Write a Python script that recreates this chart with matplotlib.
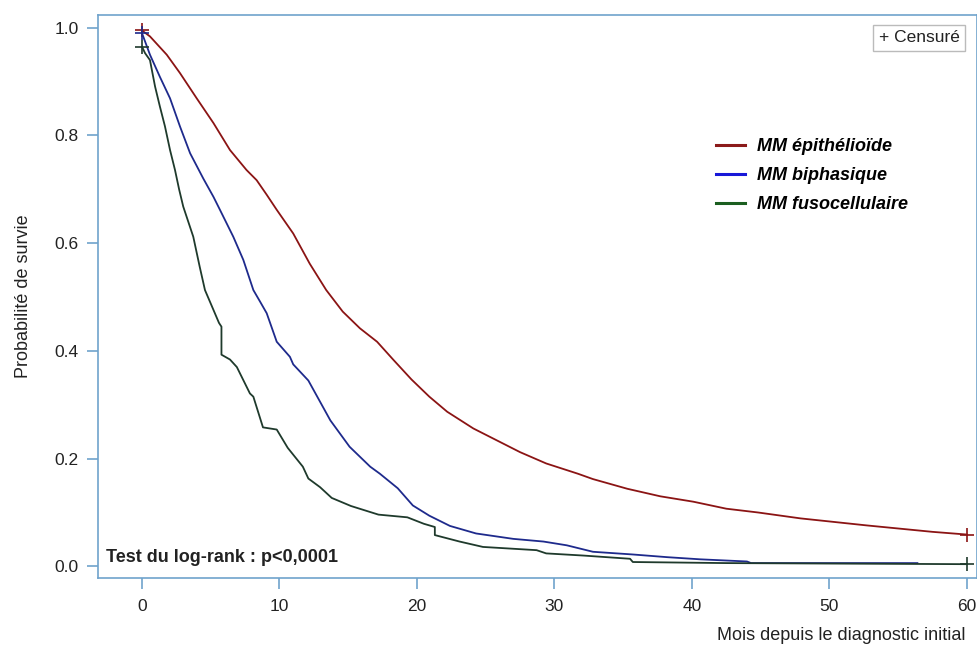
import matplotlib
matplotlib.use("Agg")
import matplotlib.pyplot as plt
from matplotlib.lines import Line2D

plt.rcParams['font.family'] = ['Liberation Sans', 'DejaVu Sans']

# Kaplan-Meier curve vertices (months, survival probability)
epi_t = [0, 0.58, 1.8, 2.76, 3.98, 5.2, 6.4, 7.6, 8.34, 9.07, 9.8, 11.0, 12.2,
         13.4, 14.6, 15.85, 17.1, 18.3, 19.6, 20.9, 22.2, 24.1, 25.8, 27.5,
         29.4, 31.7, 32.8, 35.3, 37.7, 40.1, 42.5, 44.8, 47.9, 52.7, 57.5, 60]
epi_s = [0.995, 0.984, 0.95, 0.916, 0.869, 0.823, 0.773, 0.736, 0.717, 0.69,
         0.662, 0.618, 0.562, 0.513, 0.473, 0.442, 0.417, 0.383, 0.347, 0.315,
         0.287, 0.256, 0.234, 0.212, 0.191, 0.172, 0.162, 0.144, 0.130, 0.120,
         0.107, 0.100, 0.089, 0.076, 0.064, 0.059]

bip_t = [0, 0.58, 1.3, 2.04, 2.76, 3.5, 4.46, 5.2, 5.67, 6.64, 7.37, 8.1, 8.6,
         9.07, 9.8, 10.76, 11.0, 12.1, 13.7, 15.1, 16.6, 17.3, 18.6, 19.7,
         20.9, 22.4, 24.3, 27.0, 29.2, 30.9, 32.8, 35.7, 38.2, 40.6, 44.0,
         44.3, 56.4]
bip_s = [0.99, 0.95, 0.909, 0.869, 0.817, 0.767, 0.72, 0.686, 0.662, 0.612,
         0.569, 0.513, 0.491, 0.47, 0.417, 0.389, 0.375, 0.345, 0.271, 0.222,
         0.185, 0.172, 0.145, 0.113, 0.094, 0.075, 0.061, 0.051, 0.046, 0.039,
         0.027, 0.022, 0.017, 0.013, 0.009, 0.006, 0.006]

fus_t = [0, 0.22, 0.58, 0.95, 1.3, 1.67, 2.04, 2.4, 2.7, 3.0, 3.73, 4.2, 4.58,
         5.2, 5.6, 5.78, 5.78, 6.4, 6.9, 7.85, 8.1, 8.8, 9.8, 10.6, 11.7, 12.1,
         12.95, 13.8, 15.2, 17.2, 19.3, 20.5, 21.3, 21.3, 23.1, 24.8, 28.7,
         29.4, 32.1, 35.5, 35.7, 42.5, 60]
fus_s = [0.965, 0.953, 0.94, 0.891, 0.854, 0.817, 0.773, 0.736, 0.70, 0.668,
         0.612, 0.556, 0.513, 0.476, 0.452, 0.445, 0.393, 0.384, 0.370, 0.321,
         0.315, 0.258, 0.254, 0.22, 0.185, 0.163, 0.147, 0.127, 0.112, 0.096,
         0.091, 0.079, 0.073, 0.058, 0.046, 0.036, 0.030, 0.024, 0.020, 0.014,
         0.008, 0.006, 0.004]

# censored observations shown with '+'
epi_cens_t = [0, 60]
epi_cens_s = [0.995, 0.059]
bip_cens_t = [0]
bip_cens_s = [0.99]
fus_cens_t = [0, 60]
fus_cens_s = [0.965, 0.004]

labels = ['MM épithélioïde', 'MM biphasique', 'MM fusocellulaire']
curve_colors = ['#8B1414', '#1E2A8C', '#1F3A2C']
legend_colors = ['#8B1A1A', '#1818D8', '#1B5E20']
frame_color = '#6FA3CC'

fig = plt.figure(figsize=(9.78, 6.46), dpi=100)
ax = fig.add_axes([0.1002, 0.105, 0.8983, 0.872])

series = [(epi_t, epi_s, epi_cens_t, epi_cens_s),
          (bip_t, bip_s, bip_cens_t, bip_cens_s),
          (fus_t, fus_s, fus_cens_t, fus_cens_s)]
for (t, s, ct, cs), col in zip(series, curve_colors):
    ax.plot(t, s, color=col, lw=1.3, zorder=3)
    ax.plot(ct, cs, ls='none', marker='+', ms=10, mew=1.2, color=col, zorder=4)

ax.set_xlim(-3.2, 60.7)
ax.set_ylim(-0.022, 1.024)
ax.set_xticks([0, 10, 20, 30, 40, 50, 60])
ax.set_yticks([0.0, 0.2, 0.4, 0.6, 0.8, 1.0])
ax.set_yticklabels([f'{v:.1f}' for v in [0.0, 0.2, 0.4, 0.6, 0.8, 1.0]])

for sp in ax.spines.values():
    sp.set_color(frame_color)
    sp.set_linewidth(1.2)
ax.tick_params(axis='both', colors=frame_color, length=8, width=1.2,
               labelcolor='#222222', labelsize=12.5)
ax.tick_params(axis='x', pad=7)
ax.tick_params(axis='y', pad=6)

ax.set_ylabel('Probabilité de survie', fontsize=13, color='#222222', labelpad=16)
ax.set_xlabel('Mois depuis le diagnostic initial', fontsize=13, color='#222222')
ax.xaxis.set_label_coords(0.9875, -0.087)
ax.xaxis.label.set_ha('right')
ax.xaxis.label.set_va('top')

handles = [Line2D([], [], color=c, lw=2.2) for c in legend_colors]
leg = ax.legend(handles, labels, loc='upper left', bbox_to_anchor=(0.7036, 0.781),
                frameon=False, borderpad=0, borderaxespad=0, handlelength=1.6,
                handletextpad=0.67, labelspacing=0.66,
                prop={'size': 13, 'weight': 'bold', 'style': 'italic'})

ax.text(0.935, 0.959, '+ Censuré', transform=ax.transAxes, ha='center',
        va='center', fontsize=12.5, color='#222222',
        bbox=dict(boxstyle='square,pad=0.32', fc='white', ec='#BBBBBB', lw=1))

ax.text(0.009, 0.037, 'Test du log-rank : p<0,0001', transform=ax.transAxes,
        ha='left', va='center', fontsize=13, fontweight='bold', color='#222222')

fig.savefig('out.png', dpi=100)
